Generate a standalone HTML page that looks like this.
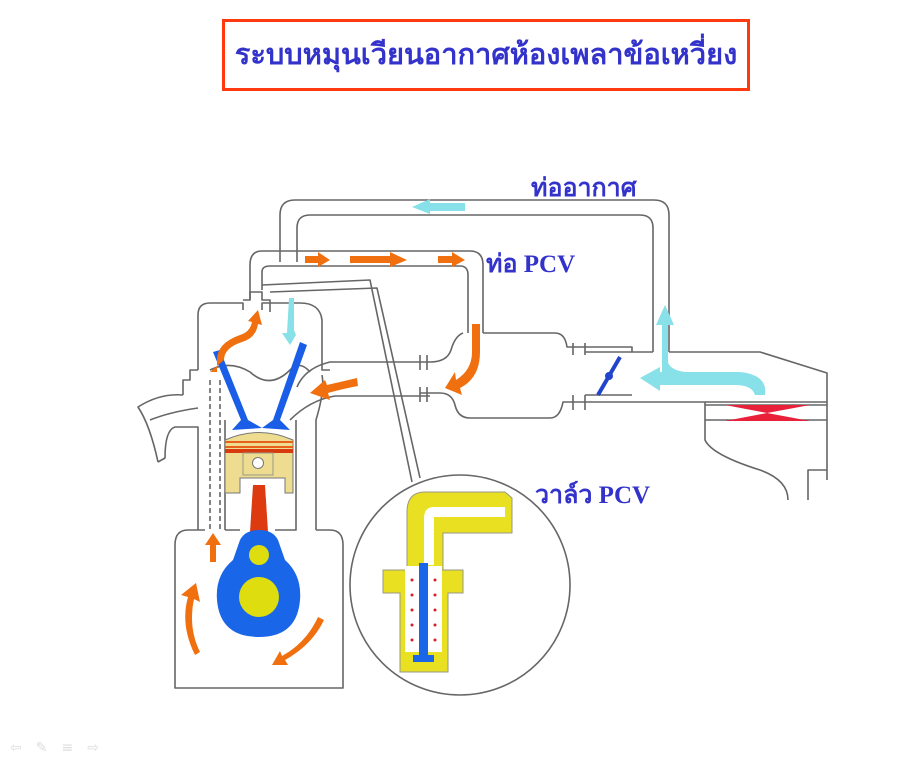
<!DOCTYPE html>
<html><head><meta charset="utf-8"><style>
html,body{margin:0;padding:0;background:#fff;width:922px;height:768px;overflow:hidden}
.t{position:absolute;left:222px;top:19px;width:522px;height:66px;border:3px solid #ff3a10;}
.t div{font-family:"Liberation Serif","Noto Serif CJK SC",serif;font-weight:bold;color:#3333cc;font-size:29px;text-align:center;line-height:66px;white-space:nowrap}
.lb{position:absolute;font-family:"Liberation Serif","Noto Serif CJK SC",serif;font-weight:bold;color:#3333cc;font-size:25px;white-space:nowrap}
svg{position:absolute;left:0;top:0}
</style></head><body>
<div class="t"><div>ระบบหมุนเวียนอากาศห้องเพลาข้อเหวี่ยง</div></div>
<svg width="922" height="768" viewBox="0 0 922 768">
<g fill="none" stroke="#666" stroke-width="1.6" stroke-linejoin="round">
<path d="M280,262 V215 Q280,200 295,200 H654 Q669,200 669,215 V352"/>
<path d="M297,262 V228 Q297,215 310,215 H640 Q653,215 653,228 V352"/>
<path d="M250,300 V265 Q250,251 262,251 H470 Q483,251 483,265 V333"/>
<path d="M262,290 V272 Q262,266 270,266 H460 Q468,266 468,275 V333"/>
<path d="M243,300 H250 V292 H262 V300 H270 V312"/>
<path d="M483,333 H555 Q565,333 567,347 H632 V352 H653"/>
<path d="M573,343 V355 M585,343 V355 M585,352 H632"/>
<path d="M669,352 H760 L827,373 V480"/>
<path d="M420,393 H440 Q452,393 455,405 Q458,418 470,418 H550 Q560,418 563,402 H827"/>
<path d="M573,395 V410 M585,395 V410 M585,395 H632"/>
<path d="M463,333 Q455,336 451,350 Q447,362 430,362 H330 Q305,368 297,387"/>
<path d="M420,355 V370 M427,355 V370 M420,387 V402 M427,387 V402"/>
<path d="M430,396 H335 Q310,400 290,420"/>
<path d="M705,402 V440 Q712,455 760,470 Q788,480 788,500 M808,500 V470 H827"/>
<path d="M705,420 H827 M705,405 H827"/>
<path d="M198,370 V315 Q198,303 210,303 H243 V310 M262,310 V303 H300 Q320,303 322,320 V370 H330"/>
<path d="M210,370 Q230,360 250,372 Q270,390 290,370 Q300,360 310,372"/>
<path d="M198,370 H190 V380 H183 L183,395 M183,395 Q160,393 138,407 Q150,425 158,462 M158,462 L165,458 Q165,430 175,427 H198 V530"/>
<path d="M150,420 Q170,412 198,408"/>
<path d="M322,375 Q325,390 316,420 V530"/>
<path d="M225,420 V530"/>
<path d="M210,380 V530 M220,380 V530" stroke-dasharray="5,3"/>
<path d="M205,530 H188 Q175,530 175,545 V688 H343 V545 Q343,530 330,530 H316"/>
<path d="M225,530 H240 M275,530 H296 V420"/>
<path d="M262,285 L370,280 L412,482"/>
<path d="M270,292 L377,288 L420,478"/>
<circle cx="460" cy="585" r="110"/>
</g>
<path d="M725,405 L810,405 L767,413 Z M725,421 L810,421 L767,413 Z" fill="#e8203a"/>
<line x1="598" y1="395" x2="620" y2="357" stroke="#2244cc" stroke-width="4"/>
<circle cx="609" cy="376" r="4" fill="#2244cc"/>
<path d="M213,352 L220,350 L248,420 L262,428 L232,430 L241,420 Z" fill="#1a5ee8"/>
<path d="M300,342 L307,345 L280,420 L290,430 L262,428 L273,420 Z" fill="#1a5ee8"/>
<path d="M225,440 Q259,425 293,440 V493 H285 V478 H240 V493 H225 Z" fill="#eedd90" stroke="#777" stroke-width="1"/>
<rect x="225" y="441" width="68" height="2" fill="#e8601a"/>
<rect x="225" y="446" width="68" height="2" fill="#e8601a"/>
<rect x="225" y="449" width="68" height="4" fill="#d83a10"/>
<rect x="243" y="453" width="30" height="22" fill="none" stroke="#998" stroke-width="1"/>
<circle cx="258" cy="463" r="5.5" fill="#fff" stroke="#777"/>
<path d="M253,485 L265,485 L268,532 L250,532 Z" fill="#dd3a10"/>
<path d="M240,540 Q245,530 259,530 Q273,530 278,540 L285,560 Q302,575 300,600 Q297,637 259,637 Q220,637 217,600 Q215,575 233,560 Z" fill="#1a66e8"/>
<circle cx="259" cy="597" r="20" fill="#dddd10"/>
<circle cx="259" cy="555" r="10" fill="#dddd10"/>
<path d="M407,570 V512 Q407,492 425,492 H505 L512,498 V533 H443 V570 Z" fill="#e8e020" stroke="#998" stroke-width="1"/>
<path d="M424,565 V518 Q424,507 434,507 H505 V517 H434 V565 Z" fill="#fff"/>
<path d="M383,570 H463 V593 H448 V672 H400 V593 H383 Z" fill="#e8e020" stroke="#998" stroke-width="1"/>
<rect x="405" y="566" width="37" height="86" fill="#fff"/>
<path d="M419,563 H428 V655 H434 V662 H413 V655 H419 Z" fill="#1a66e8"/>
<g fill="#d82020"><circle cx="412" cy="580" r="1.5"/><circle cx="435" cy="580" r="1.5"/><circle cx="412" cy="595" r="1.5"/><circle cx="435" cy="595" r="1.5"/><circle cx="412" cy="610" r="1.5"/><circle cx="435" cy="610" r="1.5"/><circle cx="412" cy="625" r="1.5"/><circle cx="435" cy="625" r="1.5"/><circle cx="412" cy="640" r="1.5"/><circle cx="435" cy="640" r="1.5"/></g>
<g fill="#f07010">
<path d="M305,256 H318 V252 L330,260 L318,267 V263 H305 Z"/>
<path d="M350,256 H390 V252 L407,260 L390,267 V263 H350 Z"/>
<path d="M438,256 H452 V252 L465,260 L452,267 V263 H438 Z"/>
<path d="M472,324 H480 V352 Q480,378 460,388 L462,395 L445,388 L455,372 L456,380 Q472,370 472,352 Z"/>
<path d="M357,378 Q340,382 327,385 L325,380 L310,393 L330,400 L328,393 Q342,389 358,386 Z"/>
<path d="M210,372 H217 V360 Q217,343 240,335 Q250,332 252,322 L248,321 L258,310 L262,325 L258,324 Q256,338 242,342 Q224,348 224,360 Z"/>
<path d="M210,562 V545 H205 L213,533 L221,545 H216 V562 Z"/>
<path d="M200,652 L195,655 Q180,625 188,597 L181,595 L196,583 L200,602 L194,599 Q188,628 200,652 Z"/>
<path d="M318,617 L324,620 Q312,645 285,660 L288,665 L272,665 L280,651 L282,656 Q306,643 318,617 Z"/>
</g>
<g fill="#88e0e8">
<path d="M465,203 H430 V199 L412,207 L430,214 V211 H465 Z"/>
<path d="M289,298 H294 V330 L296,335 L290,345 L282,333 L287,333 Z"/>
<path d="M662,372 V325 H656 L665,305 L674,325 H668 V362 Q670,370 685,372 H740 Q768,375 765,395 H755 Q752,385 735,385 H660 V391 L640,378 L660,367 V372 Z"/>
</g>
</svg>
<div class="lb" style="left:531px;top:168px">ท่ออากาศ</div>
<div class="lb" style="left:486px;top:244px">ท่อ PCV</div>
<div class="lb" style="left:535px;top:475px">วาล์ว PCV</div>
<div style="position:absolute;left:10px;top:740px;color:#ddd;font-size:14px;font-family:'DejaVu Sans',sans-serif;letter-spacing:14px">⇦✎≡⇨</div>
</body></html>
